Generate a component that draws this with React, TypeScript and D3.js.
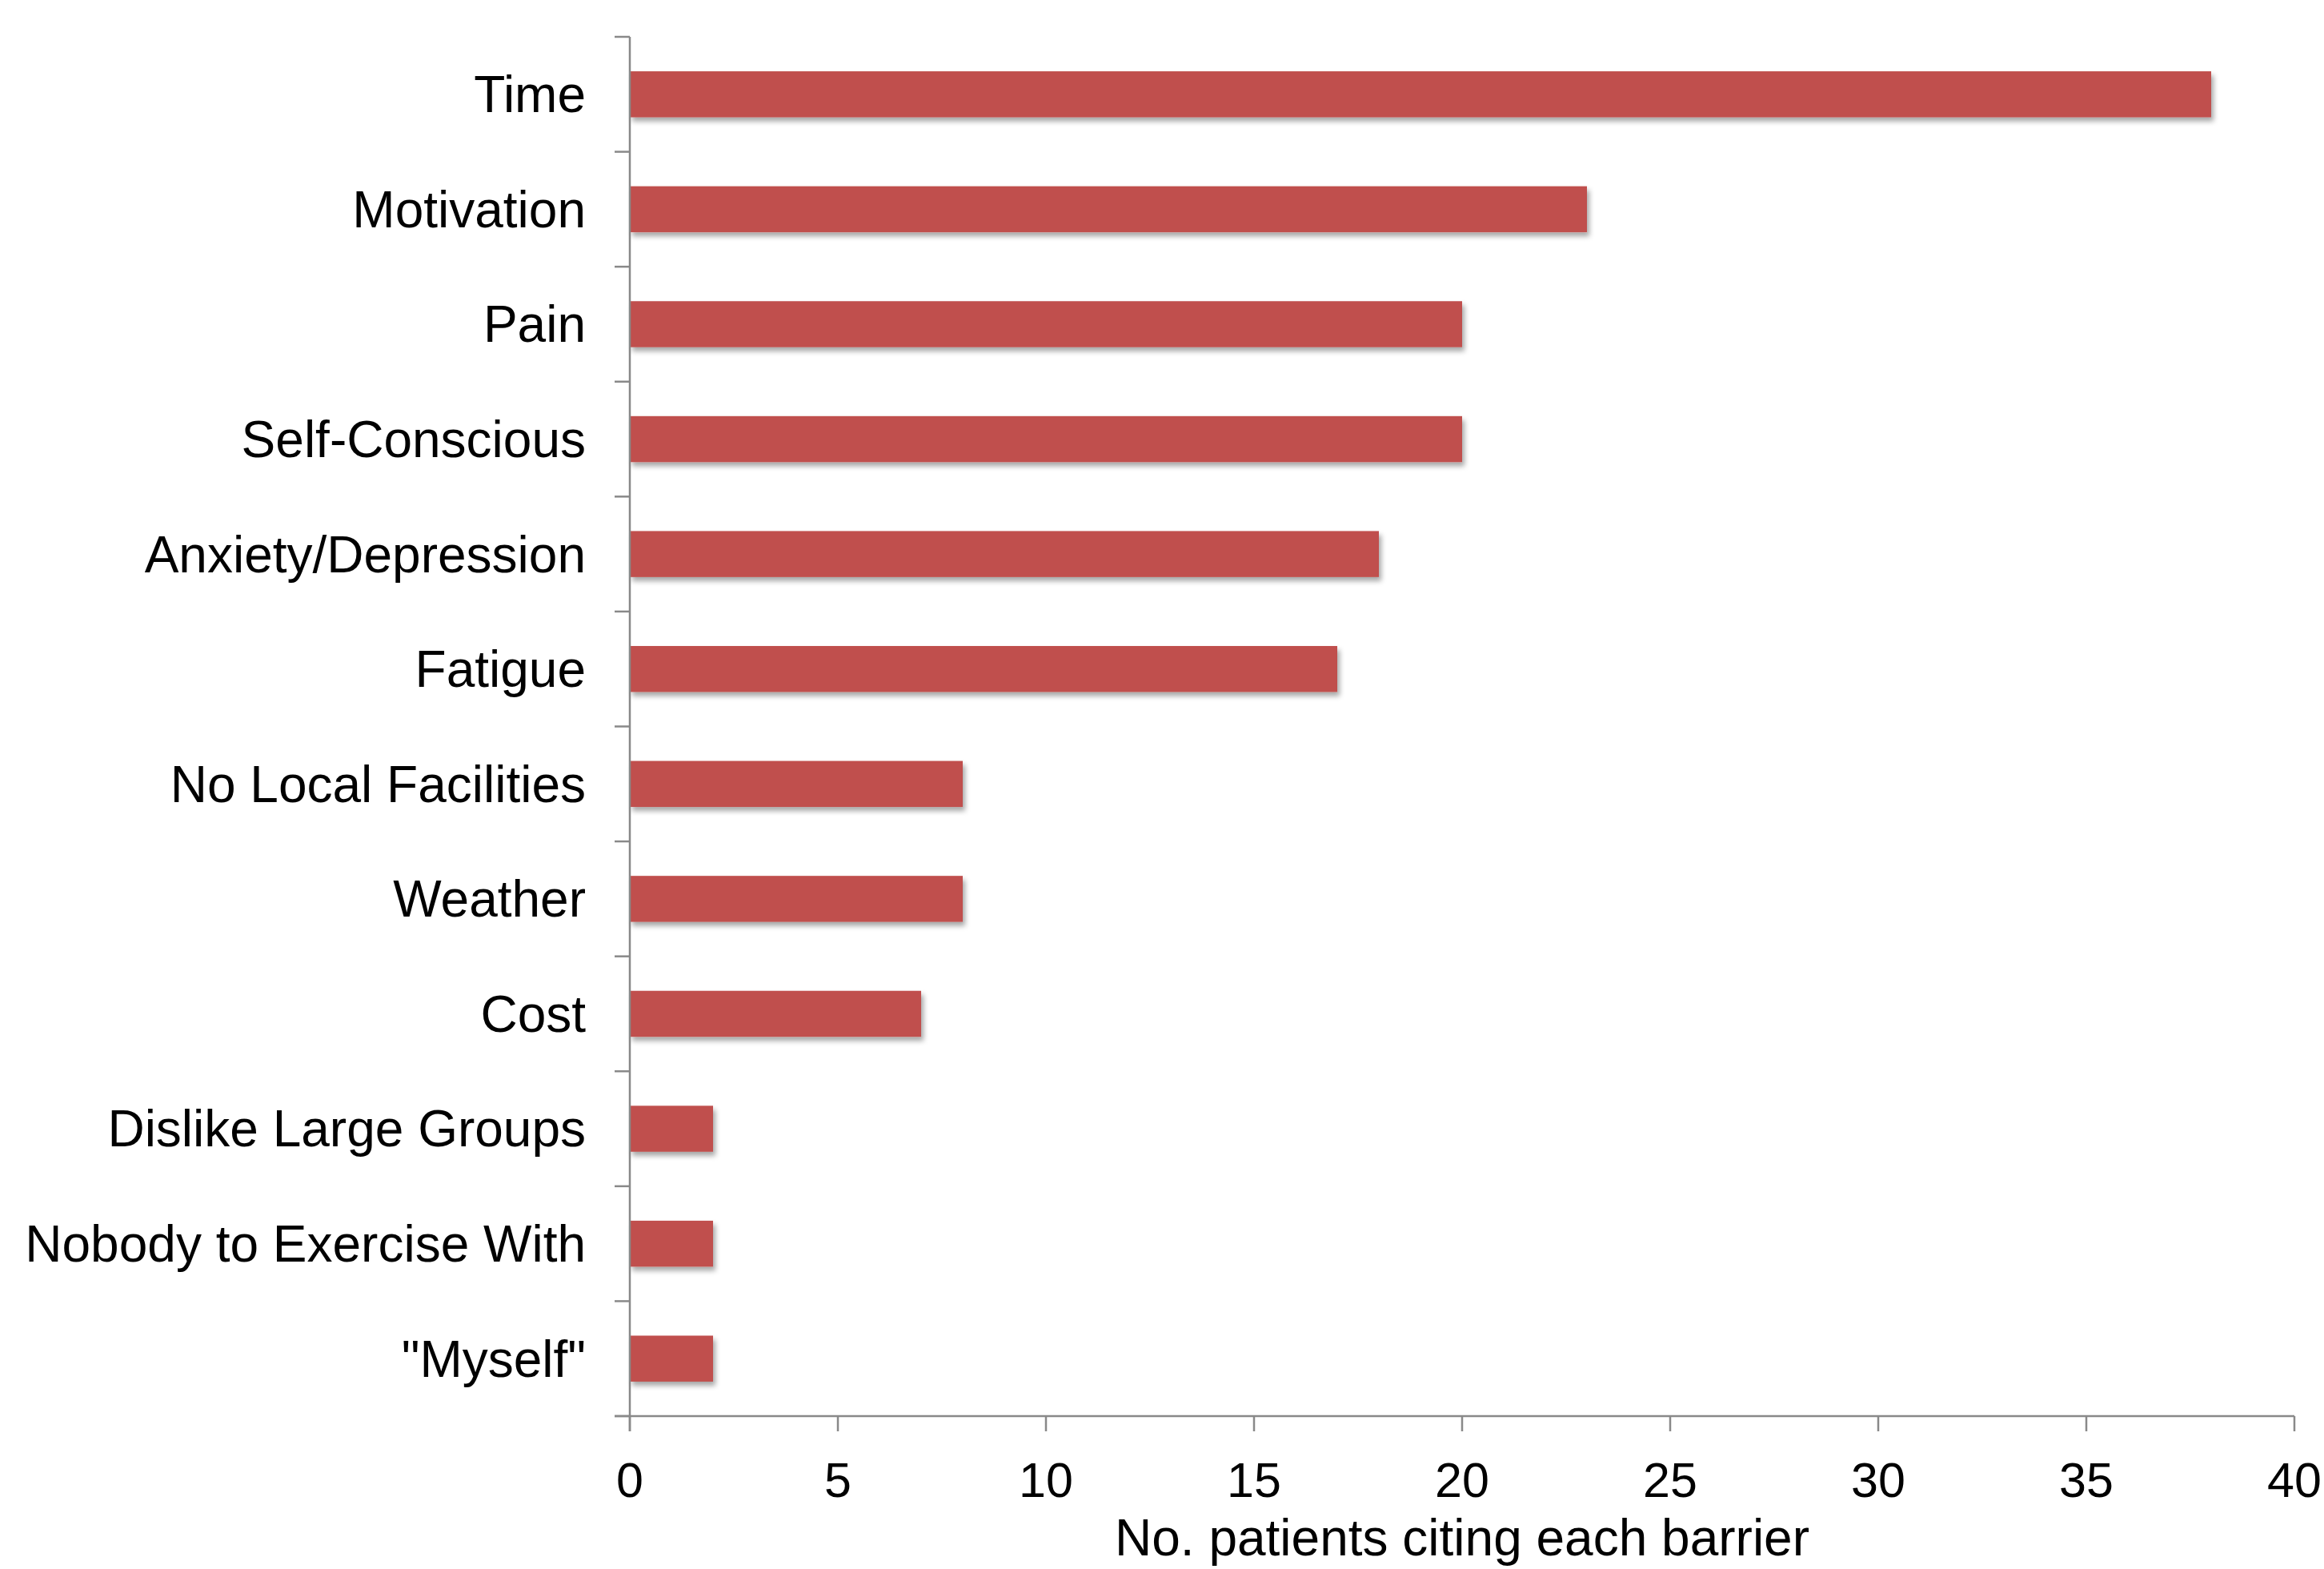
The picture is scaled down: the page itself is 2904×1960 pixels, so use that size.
import React from 'react';
import * as d3 from 'd3';

const barriers = [
  'Time',
  'Motivation',
  'Pain',
  'Self-Conscious',
  'Anxiety/Depression',
  'Fatigue',
  'No Local Facilities',
  'Weather',
  'Cost',
  'Dislike Large Groups',
  'Nobody to Exercise With',
  '"Myself"',
];
const patientCounts = [38, 23, 20, 20, 18, 17, 8, 8, 7, 2, 2, 2];
const xTicks = [0, 5, 10, 15, 20, 25, 30, 35, 40];

const width = 2904;
const height = 1960;
const margin = { top: 46, right: 37, bottom: 191, left: 787 };
const barColor = '#C0504D';
const axisColor = '#898989';
const font = '"Liberation Sans", Arial, sans-serif';
const tickLen = 19;

const App = () => {
  const x = d3.scaleLinear()
    .domain([0, 40])
    .range([margin.left, width - margin.right]);

  const y = d3.scaleBand()
    .domain(barriers)
    .range([margin.top, height - margin.bottom])
    .paddingInner(0.6)
    .paddingOuter(0.3);

  const step = y.step();
  const y0 = margin.top;
  const y1 = height - margin.bottom;
  const boundaries = d3.range(barriers.length + 1).map(i => y0 + i * step);

  return (
    <svg
      width={width}
      height={height}
      style={{ position: 'absolute', left: 0, top: 0, background: '#fff' }}
    >
      <defs>
        <filter id="shadow" x="-5%" y="-30%" width="115%" height="180%">
          <feDropShadow dx="3" dy="5" stdDeviation="3" floodColor="#000" floodOpacity="0.35" />
        </filter>
      </defs>

      {/* bars */}
      <g filter="url(#shadow)">
        {barriers.map((b, i) => (
          <rect
            key={b}
            x={x(0)}
            y={y(b)}
            width={x(patientCounts[i]) - x(0)}
            height={y.bandwidth()}
            fill={barColor}
          />
        ))}
      </g>

      {/* y axis */}
      <g stroke={axisColor} strokeWidth={2.5}>
        <line x1={x(0)} x2={x(0)} y1={y0} y2={y1 + tickLen} />
        {boundaries.map((by, i) => (
          <line key={i} x1={x(0) - tickLen} x2={x(0)} y1={by} y2={by} />
        ))}
      </g>
      <g fontFamily={font} fontSize={64} fill="#000" textAnchor="end">
        {barriers.map(b => (
          <text key={b} x={x(0) - 55} y={(y(b) as number) + y.bandwidth() / 2} dy="0.35em">
            {b}
          </text>
        ))}
      </g>

      {/* x axis */}
      <g stroke={axisColor} strokeWidth={2.5}>
        <line x1={x(0) - tickLen} x2={x(40)} y1={y1} y2={y1} />
        {xTicks.map(t => (
          <line key={t} x1={x(t)} x2={x(t)} y1={y1} y2={y1 + tickLen} />
        ))}
      </g>
      <g fontFamily={font} fontSize={61} fill="#000" textAnchor="middle">
        {xTicks.map(t => (
          <text key={t} x={x(t)} y={1870}>{t}</text>
        ))}
      </g>
      <text
        x={(x(0) + x(40)) / 2}
        y={1943}
        fontFamily={font}
        fontSize={64}
        textAnchor="middle"
        fill="#000"
      >
        No. patients citing each barrier
      </text>
    </svg>
  );
};

export default App;
